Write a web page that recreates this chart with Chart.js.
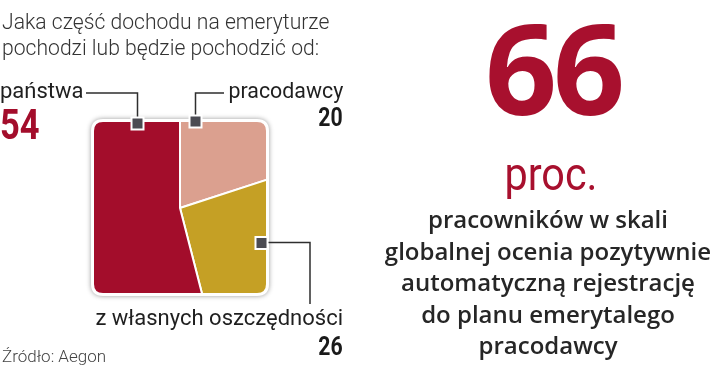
<!DOCTYPE html>
<html>
<head>
<meta charset="utf-8">
<script src="https://cdn.jsdelivr.net/npm/chart.js@4"></script>
<style>
  html, body { margin: 0; padding: 0; background: #fff; }
  #wrap { position: relative; width: 720px; height: 371px; overflow: hidden; }
  #c { position: absolute; left: 0; top: 0; }
  .t { position: absolute; white-space: nowrap; line-height: 1; }
  .lab { font-family: Roboto, sans-serif; font-weight: 400; font-size: 22px; color: #1f1f1f; }
  .num { font-family: Roboto, sans-serif; font-weight: 700; }
</style>
</head>
<body>
<div id="wrap">
  <canvas id="c" width="720" height="371"></canvas>
  <div class="t" style="left:2px;top:9px;font-family:Roboto,sans-serif;font-weight:300;font-size:22px;line-height:26px;color:#333;transform:scaleX(0.96);transform-origin:left top;">Jaka część dochodu na emeryturze<br>pochodzi lub będzie pochodzić od:</div>
  <div class="t lab" id="l0" style="left:0px;top:80px;">państwa</div>
  <div class="t num" id="n0" style="left:0px;top:104px;font-size:42px;color:#a30d2b;transform:scaleX(0.82);transform-origin:left top;"></div>
  <div class="t lab" id="l1" style="right:377px;top:80px;transform:scaleX(0.97);transform-origin:right top;">pracodawcy</div>
  <div class="t num" id="n1" style="right:377px;top:105px;font-size:25px;color:#1a1a1a;transform:scaleX(0.85);transform-origin:right top;"></div>
  <div class="t lab" id="l2" style="right:377px;top:307px;">z własnych oszczędności</div>
  <div class="t num" id="n2" style="right:377px;top:334px;font-size:25px;color:#1a1a1a;transform:scaleX(0.85);transform-origin:right top;"></div>
  <div class="t" style="left:2px;top:348px;font-family:Roboto,sans-serif;font-weight:300;font-size:17px;color:#444;">Źródło: Aegon</div>

  <div class="t" id="big" style="left:403px;width:300px;text-align:center;top:3px;font-family:'Open Sans',sans-serif;font-weight:700;font-size:126px;letter-spacing:-4px;color:#a8102e;"></div>
  <div class="t" style="left:401px;width:300px;text-align:center;top:150px;font-family:Roboto,sans-serif;font-weight:400;font-size:47px;color:#a8102e;transform:scaleX(0.88);transform-origin:center top;">proc.</div>
  <div class="t" style="left:348px;width:400px;text-align:center;top:203px;font-family:'Open Sans',sans-serif;font-weight:600;font-size:24px;line-height:31.5px;color:#262626;">pracowników w skali<br>globalnej ocenia pozytywnie<br>automatyczną rejestrację<br>do planu emerytalego<br>pracodawcy</div>
</div>
<script>
// ---- data ----
const categories = ['pracodawcy', 'z własnych oszczędności', 'państwa'];
const values = [20, 26, 54];
const sliceColors = ['#dba08f', '#c5a025', '#a30d2b'];
const headlineValue = 66;

document.getElementById('n0').textContent = values[2];
document.getElementById('n1').textContent = values[0];
document.getElementById('n2').textContent = values[1];
document.getElementById('big').textContent = headlineValue;

function rr(ctx, x, y, w, h, r) {
  ctx.beginPath();
  ctx.moveTo(x + r, y);
  ctx.lineTo(x + w - r, y);
  ctx.quadraticCurveTo(x + w, y, x + w, y + r);
  ctx.lineTo(x + w, y + h - r);
  ctx.quadraticCurveTo(x + w, y + h, x + w - r, y + h);
  ctx.lineTo(x + r, y + h);
  ctx.quadraticCurveTo(x, y + h, x, y + h - r);
  ctx.lineTo(x, y + r);
  ctx.quadraticCurveTo(x, y, x + r, y);
  ctx.closePath();
}

const box = { x: 94, y: 122, w: 172, h: 171, r: 9 };

const framePlugin = {
  id: 'frame',
  beforeDatasetsDraw(chart) {
    const ctx = chart.ctx;
    ctx.save();
    ctx.shadowColor = 'rgba(0,0,0,0.4)';
    ctx.shadowBlur = 5;
    ctx.fillStyle = '#fff';
    rr(ctx, box.x - 3, box.y - 3, box.w + 6, box.h + 6, box.r + 3);
    ctx.fill();
    ctx.restore();
    ctx.save();
    rr(ctx, box.x, box.y, box.w, box.h, box.r);
    ctx.clip();
  },
  afterDatasetsDraw(chart) {
    const ctx = chart.ctx;
    ctx.restore();
    ctx.save();
    ctx.strokeStyle = '#2e2e2e';
    ctx.lineWidth = 1.5;
    const lines = [
      [[86, 93], [137.5, 93], [137.5, 118]],
      [[224, 93], [195.5, 93], [195.5, 116]],
      [[267, 242.5], [310, 242.5], [310, 304]]
    ];
    lines.forEach(pts => {
      ctx.beginPath();
      ctx.moveTo(pts[0][0], pts[0][1]);
      for (let i = 1; i < pts.length; i++) ctx.lineTo(pts[i][0], pts[i][1]);
      ctx.stroke();
    });
    const marks = [[137.5, 123.5], [195.5, 121.5], [261.5, 243]];
    marks.forEach(([x, y]) => {
      ctx.fillStyle = '#fff';
      ctx.fillRect(x - 7, y - 7, 14, 14);
      ctx.fillStyle = '#4b4b52';
      ctx.fillRect(x - 5, y - 5, 10, 10);
    });
    ctx.restore();
  }
};

new Chart(document.getElementById('c'), {
  type: 'pie',
  data: {
    labels: categories,
    datasets: [{
      data: values,
      backgroundColor: sliceColors,
      borderColor: '#ffffff',
      borderWidth: 2,
      radius: 130
    }]
  },
  options: {
    responsive: false,
    animation: false,
    rotation: 0,
    layout: { padding: { left: 50, right: 410, top: 78, bottom: 33 } },
    plugins: { legend: { display: false }, tooltip: { enabled: false } }
  },
  plugins: [framePlugin]
});
</script>
</body>
</html>
